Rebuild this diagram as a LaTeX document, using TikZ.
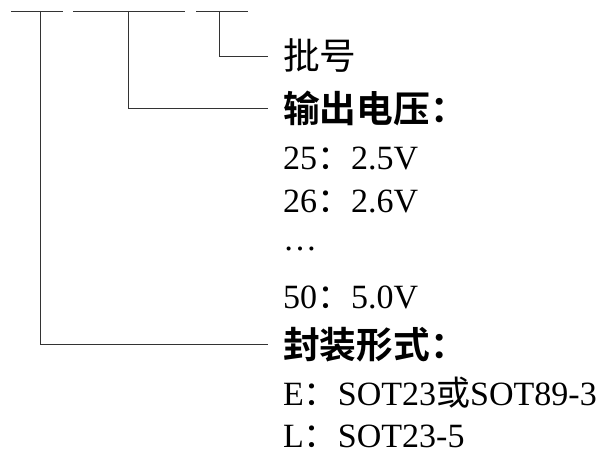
\documentclass[tikz,border=0pt]{standalone}
\usepackage{fontspec}
\setmainfont{Liberation Serif}
\newfontfamily\cjk[Scale=1.08]{Noto Sans CJK SC}
\newfontfamily\cjkb[Scale=1.08]{Noto Sans CJK SC Bold}
\newfontfamily\cjkn{Noto Sans CJK SC}
\tikzset{
  txt/.style={anchor=base west,inner sep=0pt,font=\fontsize{34}{40}\selectfont},
  lead/.style={line width=0.9pt,black!80}
}
\begin{document}
\begin{tikzpicture}[x=1pt,y=-1pt]
    \useasboundingbox (0,0) rectangle (596,454);
    % top segments and the three stems
    \foreach \a/\b in {11/63,73/185,196/248}
    {
        \draw[lead] (\a,11) -- (\b,11);
    }
    \coordinate (t1) at (40,11);
    \coordinate (t2) at (128,11);
    \coordinate (t3) at (219,11);

    \node[txt] (lot) at (283,70) {\cjk 批号};
    \node[txt] (vout) at (283,122.5) {\cjkb 输出电压：};
    \node[txt] (v25) at (283,170) {25{\cjkn ：}2.5V};
    \node[txt] (v26) at (283,213) {26{\cjkn ：}2.6V};
    \node[txt] (dots) at (283,250) {…};
    \node[txt] (v50) at (283,308) {50{\cjkn ：}5.0V};
    \node[txt] (pkg) at (283,358) {\cjkb 封装形式：};
    \node[txt] (pe) at (283,405) {E{\cjkn ：}SOT23{\cjkn 或}SOT89-3};
    \node[txt,text depth=0pt] (pl) at (283,447) {L{\cjkn ：}SOT23-5};

    \draw[lead] (t3) |- ([xshift=-15pt]lot.west);
    \draw[lead] (t2) |- ([xshift=-15pt]vout.west);
    \draw[lead] (t1) |- ([xshift=-15pt]pkg.west);
\end{tikzpicture}
\end{document}
